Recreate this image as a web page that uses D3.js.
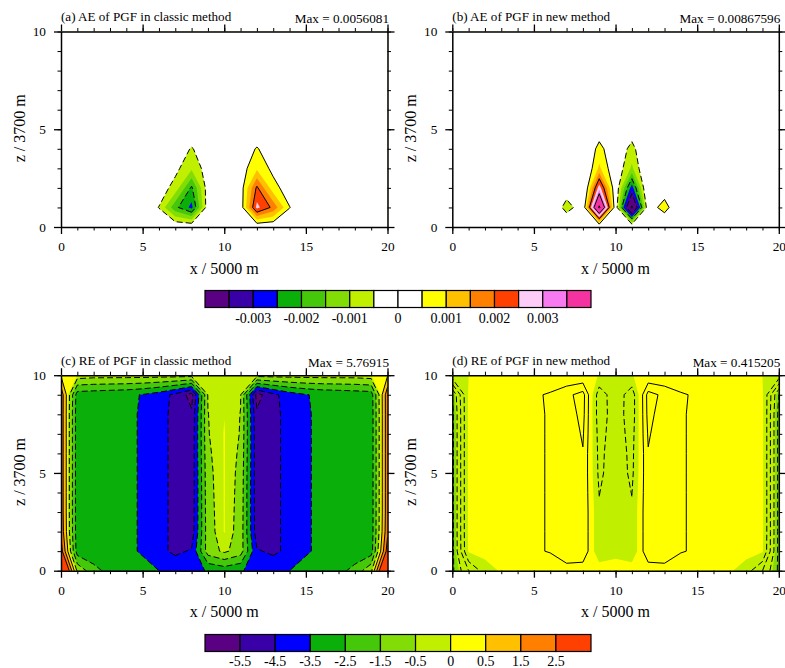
<!DOCTYPE html>
<html><head><meta charset="utf-8">
<style>html,body{margin:0;padding:0;background:#fff}svg{display:block}text{font-family:"Liberation Serif","Times New Roman",serif;fill:#000}</style>
<script src="https://cdn.jsdelivr.net/npm/d3@7"></script></head><body>
<script>
// All grids: rows from z=10 (first) to z=0 (last), columns x=0..20.
// Upper panels are in units of 1e-4.
const gridA = [
[0,0,0,0,0,0,0,0,0,0,0,0,0,0,0,0,0,0,0,0,0],
[0,0,0,0,0,0,0,0,0,0,0,0,0,0,0,0,0,0,0,0,0],
[0,0,0,0,0,0,0,0,0,0,0,0,0,0,0,0,0,0,0,0,0],
[0,0,0,0,0,0,0,0,0,0,0,0,0,0,0,0,0,0,0,0,0],
[0,0,0,0,0,0,0,0,0,0,0,0,0,0,0,0,0,0,0,0,0],
[0,0,0,0,0,0,0,0,0,0,0,0,0,0,0,0,0,0,0,0,0],
[0,0,0,0,0,0,0,-1,-5.5,-1,0,1,5.5,1,0,0,0,0,0,0,0],
[0,0,0,0,0,0,0,-3.5,-9,-2.3,0,2.3,9,3.5,0,0,0,0,0,0,0],
[0,0,0,0,0,0,-2,-7,-21,-2,0,2,21,7,2,0,0,0,0,0,0],
[0,0,0,0,0,0,-5.2,-18.5,-26.5,-1.6,0,1.6,26.5,18.5,5.2,0,0,0,0,0,0],
[0,0,0,0,0,0,0,0,0,0,0,0,0,0,0,0,0,0,0,0,0]];
const gridB = [
[0,0,0,0,0,0,0,0,0,0,0,0,0,0,0,0,0,0,0,0,0],
[0,0,0,0,0,0,0,0,0,0,0,0,0,0,0,0,0,0,0,0,0],
[0,0,0,0,0,0,0,0,0,0,0,0,0,0,0,0,0,0,0,0,0],
[0,0,0,0,0,0,0,0,0,0,0,0,0,0,0,0,0,0,0,0,0],
[0,0,0,0,0,0,0,0,0,0,0,0,0,0,0,0,0,0,0,0,0],
[0,0,0,0,0,0,0,0,0,1.5,0,-1.5,0,0,0,0,0,0,0,0,0],
[0,0,0,0,0,0,0,0,-2,7,0,-7,2,0,0,0,0,0,0,0,0],
[0,0,0,0,0,0,0,0,-2.8,11,0,-11,2.8,0,0,0,0,0,0,0,0],
[0,0,0,0,0,0,0,-0.7,-4,28,0,-28,4,0.7,0,0,0,0,0,0,0],
[0,0,0,0,0,0,2.7,-8,-1,52,0,-52,1,8,-2.7,0,0,0,0,0,0],
[0,0,0,0,0,0,0,3,0,-3,0,3,0,-3,0,0,0,0,0,0,0]];
const gridC = [
[0.4,0.02,-0.1,-0.1,-0.1,-0.1,-0.1,-0.1,-0.1,-0.1,-0.1,-0.1,-0.1,-0.1,-0.1,-0.1,-0.1,-0.1,-0.1,0.02,0.4],
[2.2,-3,-3.1,-3.2,-3.3,-3.55,-4,-4.75,-5.9,-0.45,-0.2,-0.45,-5.9,-4.75,-4,-3.55,-3.3,-3.2,-3.1,-3,2.2],
[2.2,-3.1,-3.15,-3.2,-3.3,-3.6,-4.25,-4.7,-5.33,-0.52,-0.01,-0.52,-5.33,-4.7,-4.25,-3.6,-3.3,-3.2,-3.15,-3.1,2.2],
[2.2,-3.1,-3.15,-3.2,-3.3,-3.6,-4.25,-4.7,-5.25,-0.55,0.03,-0.55,-5.25,-4.7,-4.25,-3.6,-3.3,-3.2,-3.15,-3.1,2.2],
[2.2,-3.1,-3.15,-3.2,-3.3,-3.6,-4.25,-4.7,-5.2,-0.65,0.03,-0.65,-5.2,-4.7,-4.25,-3.6,-3.3,-3.2,-3.15,-3.1,2.2],
[2.2,-3.1,-3.15,-3.2,-3.3,-3.6,-4.25,-4.7,-5.2,-0.75,0.03,-0.75,-5.2,-4.7,-4.25,-3.6,-3.3,-3.2,-3.15,-3.1,2.2],
[2.2,-3.1,-3.15,-3.2,-3.3,-3.6,-4.25,-4.7,-5.2,-0.8,0.03,-0.8,-5.2,-4.7,-4.25,-3.6,-3.3,-3.2,-3.15,-3.1,2.2],
[2.2,-3.1,-3.15,-3.2,-3.3,-3.6,-4.25,-4.7,-5.15,-0.85,0.03,-0.85,-5.15,-4.7,-4.25,-3.6,-3.3,-3.2,-3.15,-3.1,2.2],
[2.3,-3.1,-3.15,-3.2,-3.3,-3.6,-4.25,-4.7,-5.1,-0.9,0.03,-0.9,-5.1,-4.7,-4.25,-3.6,-3.3,-3.2,-3.15,-3.1,2.3],
[3,-3,-3.1,-3.2,-3.3,-3.6,-4.25,-4.7,-4.4,-1,-0.3,-1,-4.4,-4.7,-4.25,-3.6,-3.3,-3.2,-3.1,-3,3],
[5.77,-0.7,-2.2,-2.8,-3,-3.2,-3.5,-3.8,-3.9,-3.4,-3.1,-3.4,-3.9,-3.8,-3.5,-3.2,-3,-2.8,-2.2,-0.7,5.77]];
const gridD = [
[-0.05,0,0.01,0.01,0.01,0.01,0.01,0.01,0.01,-0.001,-0.05,-0.001,0.01,0.01,0.01,0.01,0.01,0.01,0.01,0,-0.05],
[-0.6,0.02,0.05,0.08,0.1,0.125,0.17,0.26,0.36,-0.25,-0.04,-0.25,0.36,0.26,0.17,0.125,0.1,0.08,0.05,0.02,-0.6],
[-0.65,0.03,0.07,0.09,0.11,0.13,0.16,0.215,0.35,-0.25,-0.05,-0.25,0.35,0.215,0.16,0.13,0.11,0.09,0.07,0.03,-0.65],
[-0.65,0.03,0.07,0.09,0.11,0.13,0.16,0.187,0.32,-0.22,-0.05,-0.22,0.32,0.187,0.16,0.13,0.11,0.09,0.07,0.03,-0.65],
[-0.65,0.03,0.07,0.09,0.11,0.13,0.16,0.18,0.29,-0.2,-0.04,-0.2,0.29,0.18,0.16,0.13,0.11,0.09,0.07,0.03,-0.65],
[-0.65,0.03,0.07,0.09,0.11,0.13,0.16,0.18,0.285,-0.19,-0.04,-0.19,0.285,0.18,0.16,0.13,0.11,0.09,0.07,0.03,-0.65],
[-0.65,0.03,0.07,0.09,0.11,0.13,0.16,0.18,0.28,-0.155,-0.04,-0.155,0.28,0.18,0.16,0.13,0.11,0.09,0.07,0.03,-0.65],
[-0.65,0.03,0.07,0.09,0.11,0.13,0.16,0.18,0.28,-0.13,-0.04,-0.13,0.28,0.18,0.16,0.13,0.11,0.09,0.07,0.03,-0.65],
[-0.65,0.03,0.07,0.09,0.11,0.13,0.16,0.19,0.28,-0.13,-0.04,-0.13,0.28,0.19,0.16,0.13,0.11,0.09,0.07,0.03,-0.65],
[-0.65,0.02,0.06,0.09,0.11,0.13,0.16,0.28,0.28,-0.13,-0.05,-0.13,0.28,0.28,0.16,0.13,0.11,0.09,0.06,0.02,-0.65],
[-0.63,-0.3,-0.08,0.02,0.05,0.05,0.05,0.07,0.05,0.1,0.08,0.1,0.05,0.07,0.05,0.05,0.05,0.02,-0.08,-0.3,-0.63]];

const levelsAE = [-35,-30,-25,-20,-15,-10,-5,0,5,10,15,20,25,30,35];
const linesAE = [-65,-50,-35,-20,-5,5,20,35,50,65];
const coloursAE = ["#5a0082","#3a00a8","#0000ff","#0aaf0a","#45c80a","#82dc05","#c0ef00","#ffffff","#ffffff","#ffff00","#ffc000","#ff8000","#ff4000","#fdcdf8","#f87af0","#f533a0"];
const barLabelsAE = ["-0.003","-0.002","-0.001","0","0.001","0.002","0.003"];
const barStopsAE = [2,4,6,8,10,12,14];

const levelsRE = [-5.5,-4.5,-3.5,-2.5,-1.5,-0.5,0,0.5,1.5,2.5];
const linesC = [-5.5,-4.5,-3.5,-2.5,-1.5,-0.5,0.5,1.5,2.5];
const linesD = [-0.6,-0.45,-0.3,-0.15,0.15,0.3];
const coloursRE = ["#5a0082","#3a00a8","#0000ff","#0aaf0a","#45c80a","#82dc05","#c0ef00","#ffff00","#ffc000","#ff8000","#ff4000"];
const barLabelsRE = ["-5.5","-4.5","-3.5","-2.5","-1.5","-0.5","0","0.5","1.5","2.5"];
const barStopsRE = [1,2,3,4,5,6,7,8,9,10];

const titles = ["(a) AE of PGF in classic method","(b) AE of PGF in new method","(c) RE of PGF in classic method","(d) RE of PGF in new method"];
const maxLabels = ["Max = 0.0056081","Max = 0.00867596","Max = 5.76915","Max = 0.415205"];
const xMajor = [0,5,10,15,20], xMinor = d3.range(0,21);
const zMajor = [0,5,10], zMinor = d3.range(0,11);

const W = 785, H = 668;
const svg = d3.select("body").append("svg").attr("width",W).attr("height",H).attr("viewBox",`0 0 ${W} ${H}`);
const pw = 326.5, ph = 195.5;
const panels = [
 {x:61,y:31.5,grid:gridA,levels:levelsAE,cols:coloursAE,lines:linesAE},
 {x:452.3,y:31.5,grid:gridB,levels:levelsAE,cols:coloursAE,lines:linesAE},
 {x:61,y:375.2,grid:gridC,levels:levelsRE,cols:coloursRE,lines:linesC},
 {x:452.3,y:375.2,grid:gridD,levels:levelsRE,cols:coloursRE,lines:linesD}];

panels.forEach((p,i)=>{
  const x = d3.scaleLinear().domain([0,20]).range([p.x,p.x+pw]);
  const z = d3.scaleLinear().domain([0,10]).range([p.y+ph,p.y]);
  const nx = p.grid[0].length, ny = p.grid.length;
  const flat = p.grid.flat();
  // d3.contours places sample k at coordinate k+0.5
  const path = d3.geoPath(d3.geoTransform({point(a,b){this.stream.point(x(a-0.5),z((ny-1)-(b-0.5)));}}));
  const gen = d3.contours().size([nx,ny]).smooth(true);
  const clip = "clip"+i;
  svg.append("clipPath").attr("id",clip).append("rect").attr("x",p.x).attr("y",p.y).attr("width",pw).attr("height",ph);
  const g = svg.append("g").attr("clip-path",`url(#${clip})`);
  g.append("rect").attr("x",p.x).attr("y",p.y).attr("width",pw).attr("height",ph).attr("fill",p.cols[0]);
  gen.thresholds(p.levels)(flat).forEach((c,k)=>{
    g.append("path").attr("d",path(c)).attr("fill",p.cols[k+1]);
  });
  gen.thresholds(p.lines)(flat).forEach((c,k)=>{
    g.append("path").attr("d",path(c)).attr("fill","none").attr("stroke","#000").attr("stroke-width",1)
     .attr("stroke-dasharray",p.lines[k]<0?"6,3":null);
  });
  const bx = p.y+ph, tx=p.x+pw;
  const axes = [
    [d3.axisBottom(x),bx,0,xMajor,xMinor,true],
    [d3.axisTop(x),p.y,0,xMajor,xMinor,false],
    [d3.axisLeft(z),0,p.x,zMajor,zMinor,true],
    [d3.axisRight(z),0,tx,zMajor,zMinor,false]];
  axes.forEach(([ax,ty,txx,maj,min,lab])=>{
    const gm = svg.append("g").attr("transform",`translate(${txx},${ty})`);
    gm.call(ax.tickValues(min).tickSize(3.5).tickSizeOuter(0).tickFormat(""));
    gm.selectAll(".tick line").attr("stroke-width",1);
    gm.select(".domain").attr("stroke-width",1.5);
    const gM = svg.append("g").attr("transform",`translate(${txx},${ty})`);
    gM.call(ax.tickValues(maj).tickSize(7).tickPadding(lab?8:0).tickFormat(lab?d3.format("d"):""));
    gM.select(".domain").remove();
    gM.selectAll(".tick line").attr("stroke-width",1.3);
    gM.selectAll("text").attr("font-size",13.3).attr("font-family",'"Liberation Serif",serif').attr("fill","#000");
  });
  svg.append("text").attr("x",p.x).attr("y",p.y-10.2).attr("font-size",13.1).text(titles[i]);
  svg.append("text").attr("x",tx+1.5).attr("y",p.y-8.5).attr("text-anchor","end").attr("font-size",13.2).text(maxLabels[i]);
  svg.append("text").attr("x",p.x+pw/2).attr("y",p.y+ph+46.5).attr("text-anchor","middle").attr("font-size",16).text("x / 5000 m");
  svg.append("text").attr("transform",`translate(${p.x-36},${p.y+ph/2-1}) rotate(-90)`).attr("text-anchor","middle").attr("font-size",16).text("z / 3700 m");
});

function colourBar(cols,stops,labels,y0,h,labelY){
  const s = d3.scaleLinear().domain([0,cols.length]).range([205,591]);
  const g = svg.append("g");
  g.selectAll("rect").data(cols).join("rect")
    .attr("x",(d,i)=>s(i)).attr("y",y0).attr("width",(d,i)=>s(i+1)-s(i)).attr("height",h)
    .attr("fill",d=>d).attr("stroke","#000").attr("stroke-width",1.2);
  g.selectAll("text").data(labels).join("text")
    .attr("x",(d,i)=>s(stops[i])).attr("y",labelY).attr("text-anchor","middle").attr("font-size",14).text(d=>d);
}
colourBar(coloursAE,barStopsAE,barLabelsAE,290.5,17,322.5);
colourBar(coloursRE,barStopsRE,barLabelsRE,634.5,17,666);
</script></body></html>
